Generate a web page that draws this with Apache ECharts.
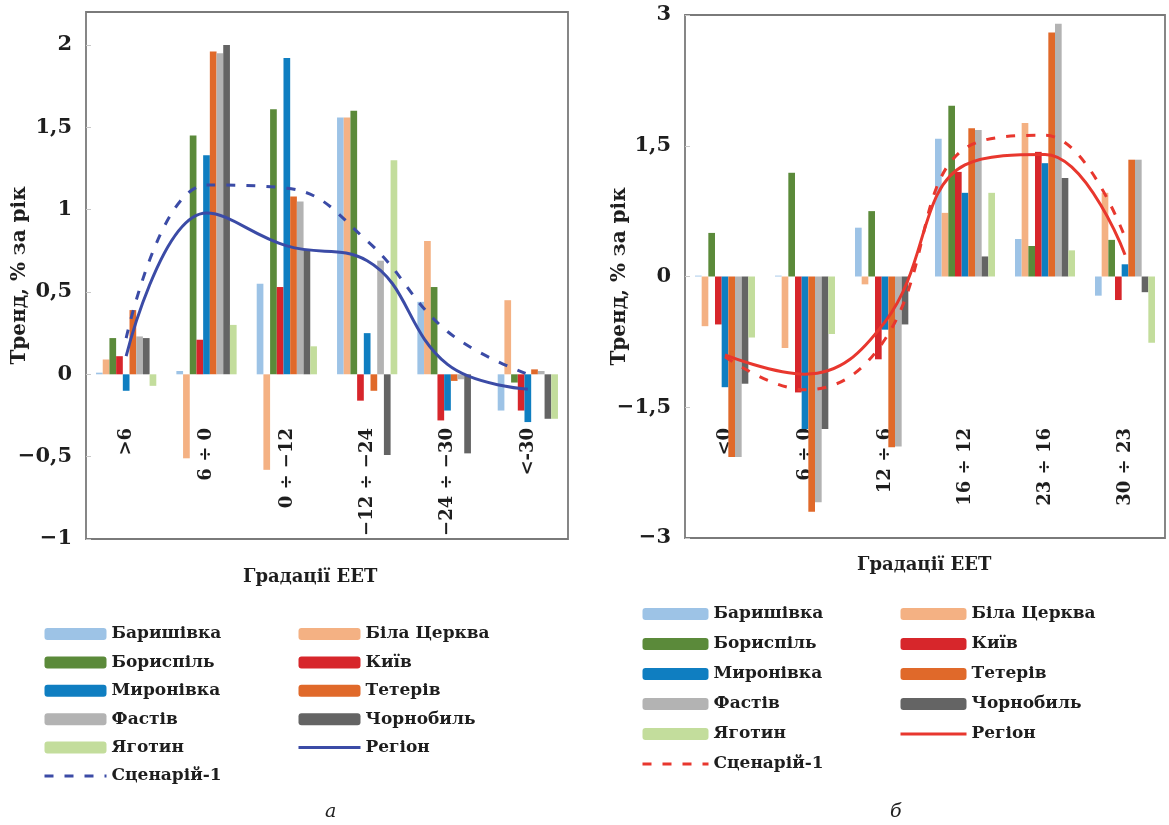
<!DOCTYPE html>
<html><head><meta charset="utf-8">
<script src="https://cdn.jsdelivr.net/npm/echarts@6/dist/echarts.min.js"></script>
<style>
html,body{margin:0;padding:0;background:#fff;}
#a{position:absolute;left:0;top:0;width:590px;height:825px;}
#b{position:absolute;left:590px;top:0;width:579px;height:825px;}
</style></head><body>
<div id="a"></div><div id="b"></div>
<script>
// ---------- data ----------
const stations = ['Баришівка','Біла Церква','Бориспіль','Київ','Миронівка','Тетерів','Фастів','Чорнобиль','Яготин'];
const colors = ['#9DC3E6','#F4B183','#5B8A3A','#D7262B','#0F7EC1','#E0692A','#B3B3B3','#646464','#C3DD9C'];

// chart а
const catsA = ['>6','6 ÷ 0','0 ÷ −12','−12 ÷ −24','−24 ÷ −30','<-30'];
const baryshivkaA = [0.01, 0.02, 0.55, 1.56, 0.44, -0.22];
const bilaTserkvaA = [0.09, -0.51, -0.58, 1.56, 0.81, 0.45];
const boryspilA = [0.22, 1.45, 1.61, 1.60, 0.53, -0.05];
const kyivA = [0.11, 0.21, 0.53, -0.16, -0.28, -0.22];
const myronivkaA = [-0.10, 1.33, 1.92, 0.25, -0.22, -0.29];
const teterivA = [0.39, 1.96, 1.08, -0.10, -0.04, 0.03];
const fastivA = [0.23, 1.95, 1.05, 0.69, -0.03, 0.02];
const chornobylA = [0.22, 2.00, 0.76, -0.49, -0.48, -0.27];
const yahotynA = [-0.07, 0.30, 0.17, 1.30, 0.0, -0.27];
const regionA = [0.11, 0.98, 0.78, 0.69, 0.06, -0.09];
const scenarioA = [0.22, 1.15, 1.13, 0.81, 0.26, 0.0];

// chart б
const catsB = ['<0','6 ÷ 0','12 ÷ 6','16 ÷ 12','23 ÷ 16','30 ÷ 23'];
const baryshivkaB = [0.01, 0.01, 0.56, 1.58, 0.43, -0.22];
const bilaTserkvaB = [-0.57, -0.82, -0.09, 0.73, 1.76, 0.96];
const boryspilB = [0.50, 1.19, 0.75, 1.96, 0.35, 0.42];
const kyivB = [-0.55, -1.33, -0.95, 1.20, 1.43, -0.27];
const myronivkaB = [-1.27, -1.75, -0.61, 0.96, 1.30, 0.14];
const teterivB = [-2.07, -2.70, -1.96, 1.70, 2.80, 1.34];
const fastivB = [-2.07, -2.59, -1.95, 1.68, 2.90, 1.34];
const chornobylB = [-1.23, -1.75, -0.55, 0.23, 1.13, -0.18];
const yahotynB = [-0.70, -0.66, 0.0, 0.96, 0.30, -0.76];
const regionB = [-0.90, -1.12, -0.52, 1.28, 1.40, 0.25];
const scenarioB = [-0.92, -1.30, -0.72, 1.47, 1.62, 0.45];

const seriesA = [baryshivkaA, bilaTserkvaA, boryspilA, kyivA, myronivkaA, teterivA, fastivA, chornobylA, yahotynA];
const seriesB = [baryshivkaB, bilaTserkvaB, boryspilB, kyivB, myronivkaB, teterivB, fastivB, chornobylB, yahotynB];

// ---------- rendering ----------
const FONT = '"DejaVu Serif", "Liberation Serif", serif';
const TXT = '#1e1e1e';
function fmt(v){
  if (Math.abs(v*2 - Math.round(v*2)) > 1e-6) return '';
  const s = String(Math.abs(Math.round(v*10)/10)).replace('.', ',');
  return (v < 0 ? '−' : '') + s;
}

function build(el, cfg){
  const ch = echarts.init(document.getElementById(el), null, {renderer:'canvas'});
  const series = stations.map((n,i)=>({
    name:n, type:'bar', data:cfg.bars[i], barGap:'0%', barCategoryGap:'25%',
    itemStyle:{color:colors[i]}, z:2
  }));
  series.push({name:'Регіон', type:'line', data:cfg.region, smooth:0.42, symbol:'none',
    lineStyle:{color:cfg.lineColor, width:3}, itemStyle:{color:cfg.lineColor}, z:5});
  series.push({name:'Сценарій-1', type:'line', data:cfg.scenario, smooth:0.42, symbol:'none',
    lineStyle:{color:cfg.lineColor, width:3, type:[9,11]}, itemStyle:{color:cfg.lineColor}, z:5});
  const legText = {fontFamily:FONT, fontWeight:'bold', fontSize:17, color:TXT, lineHeight:20};
  const noSym = {opacity:0};
  ch.setOption({
    animation:false,
    textStyle:{fontFamily:FONT},
    grid:{left:cfg.grid[0], top:cfg.grid[1], width:cfg.grid[2], height:cfg.grid[3],
      show:true, borderColor:'#7a7a7a', borderWidth:1.8, backgroundColor:'transparent'},
    xAxis:{type:'category', data:cfg.cats,
      axisLine:{show:false, onZero:false},
      axisTick:{show:false},
      axisLabel:{rotate:90, margin:cfg.labelMargin, interval:0, fontFamily:FONT, fontWeight:'bold', fontSize:18, color:TXT}},
    yAxis:{type:'value', min:cfg.ymin, max:cfg.ymax, interval:cfg.yint,
      name:'Тренд, % за рік', nameLocation:'middle', nameGap:cfg.nameGap, nameRotate:90, nameMoveOverlap:false,
      nameTextStyle:{fontFamily:FONT, fontWeight:'bold', fontSize:20, color:TXT},
      axisLine:{show:false}, splitLine:{show:false},
      axisTick:{show:true, inside:true, length:5, lineStyle:{color:'#c8c8c8'}},
      axisLabel:{formatter:fmt, showMaxLabel:cfg.showMax, margin:14, fontFamily:FONT, fontWeight:'bold', fontSize:21, color:TXT}},
    legend:[
      {orient:'vertical', left:cfg.leg1[0], top:cfg.leg1[1], itemWidth:cfg.legW, itemHeight:12, itemGap:cfg.legGap,
        data:['Баришівка','Бориспіль','Миронівка','Фастів','Яготин',{name:'Сценарій-1', itemStyle:noSym, lineStyle:{width:3}}], textStyle:legText, selectedMode:false},
      {orient:'vertical', left:cfg.leg2[0], top:cfg.leg2[1], itemWidth:cfg.legW, itemHeight:12, itemGap:cfg.legGap,
        data:['Біла Церква','Київ','Тетерів','Чорнобиль',{name:'Регіон', itemStyle:noSym, lineStyle:{width:3}}], textStyle:legText, selectedMode:false}
    ],
    graphic:[
      {type:'text', left:cfg.xname[0], top:cfg.xname[1], style:{text:'Градації ЕЕТ', font:'bold 18px '+FONT, fill:TXT}},
      {type:'text', left:cfg.cap[0], top:cfg.cap[1], style:{text:cfg.capText, font:'italic 19px '+FONT, fill:TXT}}
    ],
    series:series
  });
}

build('a', {
  cats:catsA, bars:seriesA, region:regionA, scenario:scenarioA, lineColor:'#3B4BA6',
  grid:[86,12,482,527], ymin:-1, ymax:2.2, yint:0.5, showMax:false, labelMargin:-111, nameGap:56,
  leg1:[38,619], leg2:[292,619], legW:62, legGap:8.4,
  xname:[243,568], cap:[325,803], capText:'а'
});
build('b', {
  cats:catsB, bars:seriesB, region:regionB, scenario:scenarioB, lineColor:'#E8372E',
  grid:[95,15,480,523], ymin:-3, ymax:3, yint:1.5, showMax:true, labelMargin:-110, nameGap:55,
  leg1:[46,599], leg2:[304,599], legW:66, legGap:10,
  xname:[267,556], cap:[300,803], capText:'б'
});
</script>
</body></html>
